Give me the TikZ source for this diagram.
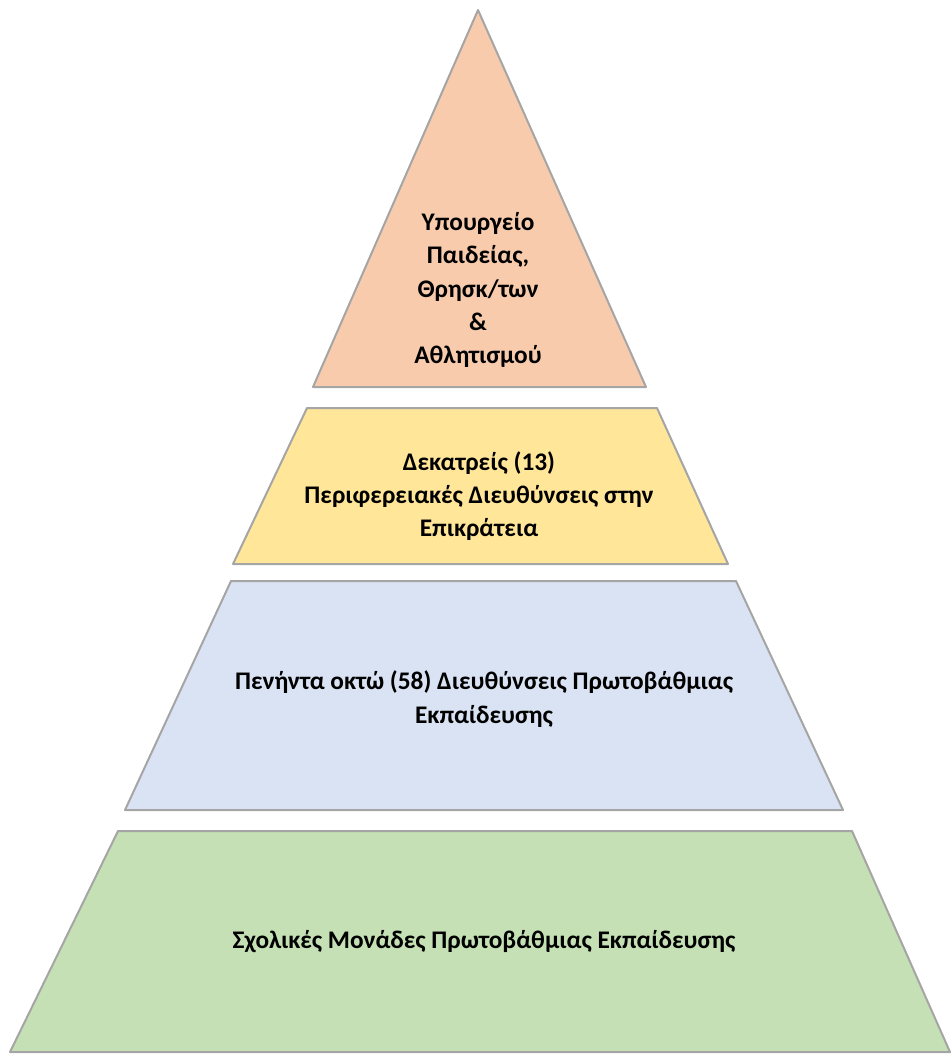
\documentclass[tikz,border=0pt]{standalone}
\usepackage{fontspec}
\setmainfont{Carlito}
\tikzset{every picture/.style={line width=0.75pt}}
\tikzset{
  level/.style={draw={rgb, 255:red, 165; green, 165; blue, 165 }, line width=1.5pt, line join=round},
  leveltext/.style={align=center, inner sep=0.75pt, font=\fontsize{19}{25}\selectfont\bfseries}
}

\begin{document}
\begin{tikzpicture}[x=0.75pt,y=0.75pt,yscale=-1,xscale=1]
%set diagram left start at 0, and has height of 1055
\useasboundingbox (0,0) rectangle (951,1055);

%Shape: Triangle [id:top]
\draw  [level, fill={rgb, 255:red, 248; green, 203; blue, 173 }  ] (478,10) -- (646,387) -- (313,387) -- cycle ;
%Shape: Trapezoid [id:regional]
\draw  [level, fill={rgb, 255:red, 255; green, 230; blue, 153 }  ] (307,408) -- (657,408) -- (728,564) -- (233,564) -- cycle ;
%Shape: Trapezoid [id:directorates]
\draw  [level, fill={rgb, 255:red, 218; green, 227; blue, 243 }  ] (231,581) -- (736,581) -- (843,810) -- (125,810) -- cycle ;
%Shape: Trapezoid [id:schools]
\draw  [level, fill={rgb, 255:red, 197; green, 224; blue, 180 }  ] (118,831) -- (852,831) -- (950,1052) -- (10,1052) -- cycle ;

% Text Node
\draw (478,290) node (ministry) [leveltext]  {Υπουργείο\\Παιδείας,\\Θρησκ/των\\\&\\Αθλητισμού};
% Text Node
\draw (479,496) node (regions) [leveltext]  {Δεκατρείς (13)\\Περιφερειακές Διευθύνσεις στην\\Επικράτεια};
% Text Node
\draw (484,699) node (primary) [leveltext]  {Πενήντα οκτώ (58) Διευθύνσεις Πρωτοβάθμιας\\Εκπαίδευσης};
% Text Node
\draw (484,942) node (units) [leveltext]  {Σχολικές Μονάδες Πρωτοβάθμιας Εκπαίδευσης};

\end{tikzpicture}
\end{document}
